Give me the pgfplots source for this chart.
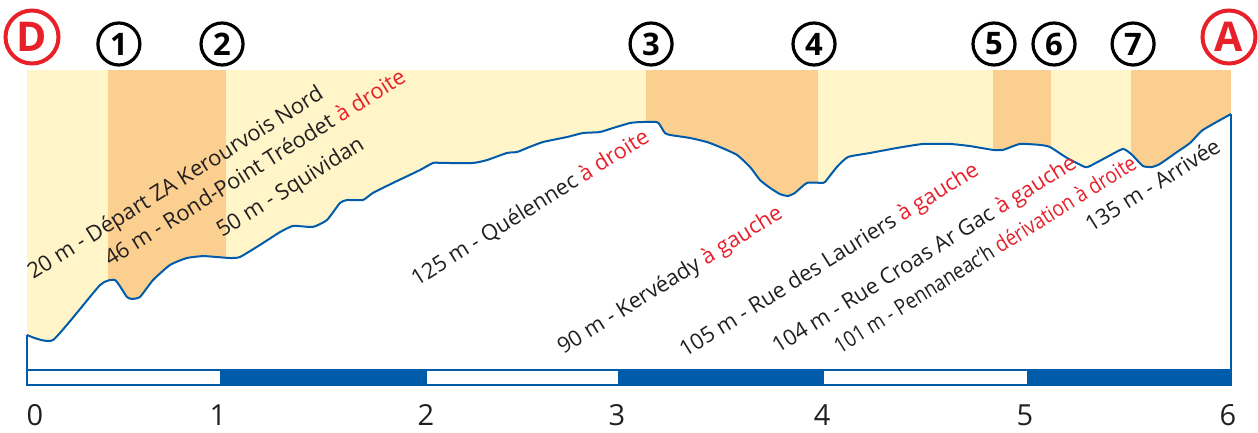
\documentclass[border=0pt]{standalone}
\usepackage{pgfplots}
\pgfplotsset{compat=1.18}
\usepackage{pgfplotstable}
\usepackage{fontspec}
\setmainfont{Open Sans}

\definecolor{bandlight}{RGB}{255,245,200}
\definecolor{bandorange}{RGB}{251,207,143}
\definecolor{routeblue}{RGB}{0,91,170}
\definecolor{signred}{RGB}{232,32,42}
\definecolor{textdark}{RGB}{35,31,32}

% profile: distance (km), elevation (m)
\pgfplotstableread{
km elev
0.000 20.0
0.130 17.4
0.364 46.0
0.439 48.6
0.498 39.8
0.523 38.8
0.563 39.8
0.628 48.6
0.713 56.5
0.797 60.1
0.877 61.1
0.947 60.6
1.012 60.1
1.061 60.6
1.161 66.9
1.261 73.6
1.326 76.8
1.425 76.3
1.495 79.9
1.560 88.8
1.595 90.3
1.674 90.3
1.724 94.0
1.824 99.2
1.958 105.9
2.023 109.6
2.073 109.6
2.223 109.6
2.292 111.1
2.392 114.8
2.442 115.3
2.492 117.4
2.571 120.5
2.691 123.1
2.771 125.2
2.855 125.7
2.920 127.8
3.005 130.4
3.055 130.9
3.139 130.9
3.154 129.4
3.179 125.2
3.204 124.2
3.304 122.6
3.389 120.5
3.453 117.9
3.538 113.8
3.603 107.5
3.653 100.7
3.703 96.6
3.752 93.4
3.792 92.4
3.827 94.0
3.887 99.2
3.967 99.2
3.977 99.7
4.036 107.5
4.091 112.7
4.201 114.8
4.335 117.4
4.465 119.5
4.600 119.5
4.699 118.4
4.814 116.4
4.864 116.4
4.948 119.5
5.048 119.0
5.098 117.9
5.183 112.2
5.272 107.5
5.297 108.0
5.382 112.7
5.462 116.9
5.507 113.8
5.561 108.0
5.606 107.5
5.646 109.1
5.731 115.3
5.796 120.0
5.860 126.8
6.000 135.1
}\profile

\begin{document}
\begin{tikzpicture}
\begin{axis}[
    width=602pt, height=150pt, scale only axis,
    xmin=0, xmax=6, ymin=1.77, ymax=158.02,
    hide axis, clip=false,
]
\coordinate (bbsw) at (axis cs:-0.1345,-30.52);
\coordinate (bbne) at (axis cs:6.1345,194.48);

% sections between the numbered points
\addplot[fill=bandlight, draw=none] coordinates {(0,1.77) (0,158.02) (0.404,158.02) (0.404,1.77)} -- cycle;
\addplot[fill=bandorange, draw=none] coordinates {(0.404,1.77) (0.404,158.02) (0.992,158.02) (0.992,1.77)} -- cycle;
\addplot[fill=bandlight, draw=none] coordinates {(0.992,1.77) (0.992,158.02) (3.085,158.02) (3.085,1.77)} -- cycle;
\addplot[fill=bandorange, draw=none] coordinates {(3.085,1.77) (3.085,158.02) (3.942,158.02) (3.942,1.77)} -- cycle;
\addplot[fill=bandlight, draw=none] coordinates {(3.942,1.77) (3.942,158.02) (4.814,158.02) (4.814,1.77)} -- cycle;
\addplot[fill=bandorange, draw=none] coordinates {(4.814,1.77) (4.814,158.02) (5.103,158.02) (5.103,1.77)} -- cycle;
\addplot[fill=bandlight, draw=none] coordinates {(5.103,1.77) (5.103,158.02) (5.502,158.02) (5.502,1.77)} -- cycle;
\addplot[fill=bandorange, draw=none] coordinates {(5.502,1.77) (5.502,158.02) (6,158.02) (6,1.77)} -- cycle;

% white below the profile
\addplot[fill=white, draw=none, smooth, tension=0.3] table[x=km, y=elev] {\profile} \closedcycle;

% profile line and box sides
\addplot[routeblue, line width=1pt, smooth, tension=0.3] table[x=km, y=elev] {\profile};
\addplot[routeblue, line width=1pt] coordinates {(0,20) (0,1.77)};
\addplot[routeblue, line width=1pt] coordinates {(6,135.1) (6,1.77)};

% distance scale bar
\addplot[fill=white, draw=routeblue, line width=1pt] coordinates {(0,1.77) (6,1.77) (6,-6.04) (0,-6.04)} -- cycle;
\addplot[fill=routeblue, draw=routeblue, line width=1pt] coordinates {(0.967,1.77) (1.988,1.77) (1.988,-6.04) (0.967,-6.04)} -- cycle;
\addplot[fill=routeblue, draw=routeblue, line width=1pt] coordinates {(2.950,1.77) (3.967,1.77) (3.967,-6.04) (2.950,-6.04)} -- cycle;
\addplot[fill=routeblue, draw=routeblue, line width=1pt] coordinates {(4.988,1.77) (6,1.77) (6,-6.04) (4.988,-6.04)} -- cycle;

% km labels
\addplot[only marks, mark=none, nodes near coords, point meta=explicit symbolic,
    every node near coord/.style={anchor=center, inner sep=0pt, font=\fontsize{14.5}{17}\selectfont, text=textdark}]
    coordinates {(0.040,-21.67) [0] (0.952,-21.67) [1] (1.988,-21.67) [2] (2.940,-21.67) [3]
                 (3.962,-21.67) [4] (4.973,-21.67) [5] (5.985,-21.67) [6]};

% numbered points
\addplot[only marks, mark=none, nodes near coords, point meta=explicit symbolic,
    every node near coord/.style={anchor=center, circle, draw=black, line width=1.6pt,
        minimum size=21pt, inner sep=0pt, font=\bfseries\fontsize{15.5}{18}\selectfont, text=black}]
    coordinates {(0.458,171.56) [1] (0.972,171.56) [2] (3.110,171.56) [3] (3.922,171.56) [4]
                 (4.819,171.56) [5] (5.118,171.56) [6] (5.512,171.56) [7]};

% start and finish
\addplot[only marks, mark=none, nodes near coords, point meta=explicit symbolic,
    every node near coord/.style={anchor=center, circle, draw=signred, line width=2pt,
        minimum size=26.5pt, inner sep=0pt, font=\bfseries\fontsize{20.5}{24}\selectfont, text=signred}]
    coordinates {(0.025,175.2) [D] (5.990,175.2) [A]};

% directions
\addplot[only marks, mark=none, nodes near coords, point meta=explicit symbolic,
    every node near coord/.style={anchor=base west, rotate=32, inner sep=0pt,
        font=\fontsize{10.9}{13}\selectfont, text=textdark}]
    coordinates {
    (0.030,48.6) [20 m - Départ ZA Kerourvois Nord]
    (0.414,55.4) [46 m - Rond-Point Tréodet \textcolor{signred}{à droite}]
    (0.972,70.5) [50 m - Squividan]
    (1.943,45.0) [125 m - Quélennec \textcolor{signred}{à droite}]
    (2.671,9.6) [90 m - Kervéady \textcolor{signred}{à gauche}]
    (3.279,8.0) [105 m - Rue des Lauriers \textcolor{signred}{à gauche}]
    (3.742,10.0) [104 m - Rue Croas Ar Gac \textcolor{signred}{à gauche}]
    (5.302,73.2) [135 m - Arrivée]
    };
\addplot[only marks, mark=none, nodes near coords, point meta=explicit symbolic,
    every node near coord/.style={anchor=base west, rotate=32, xscale=0.87, inner sep=0pt,
        font=\fontsize{10.9}{13}\selectfont, text=textdark}]
    coordinates {(4.051,10.0) [101 m - Pennaneac’h \textcolor{signred}{dérivation à droite}]};
\end{axis}
\pgfresetboundingbox
\path[use as bounding box] (bbsw) rectangle (bbne);
\end{tikzpicture}
\end{document}
